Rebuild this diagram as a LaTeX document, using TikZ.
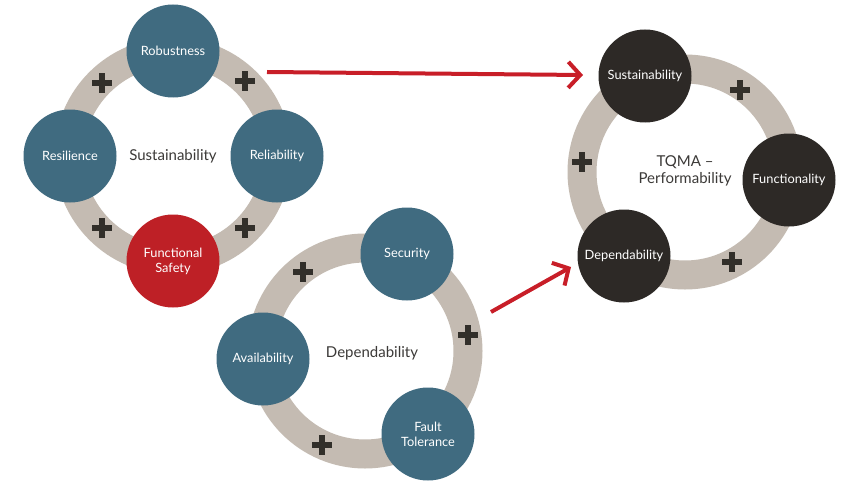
\documentclass[tikz,border=0pt]{standalone}
\usepackage{fontspec}
\setmainfont{Lato}
\usetikzlibrary{arrows.meta}
\definecolor{bluec}{RGB}{64,107,128}
\definecolor{redc}{RGB}{190,32,38}
\definecolor{darkc}{RGB}{45,41,38}
\definecolor{ringc}{RGB}{196,187,178}
\definecolor{plusc}{RGB}{50,47,42}
\definecolor{textc}{RGB}{60,58,56}
\definecolor{arrowc}{RGB}{200,30,40}
\tikzset{
  ring/.style={draw=ringc, line width=29pt},
  ball/.style={circle, minimum size=93pt, inner sep=0pt, text=white, align=center,
    font=\fontsize{12.8}{15}\selectfont},
  blueball/.style={ball, fill=bluec},
  redball/.style={ball, fill=redc},
  darkball/.style={ball, fill=darkc},
  centertext/.style={text=textc, align=center, font=\fontsize{15}{17.5}\selectfont},
  plussign/.pic={\fill[plusc] (-10,-3.2) rectangle (10,3.2); \fill[plusc] (-3.2,-10) rectangle (3.2,10);},
  redarrow/.style={draw=arrowc, line width=4pt, -{Straight Barb[length=12pt,width=26pt]}}
}
\begin{document}
\begin{tikzpicture}[x=1pt,y=-1pt]
\useasboundingbox[fill=white] (0,0) rectangle (865,503);
% ring 1: Sustainability
\draw[ring] (173,156) circle (104);
\foreach \p in {(102,83),(245,81),(102,228),(245,228)} \pic at \p {plussign};
\node[blueball] (rob) at (173,51) {Robustness};
\node[blueball] (res) at (70,156) {Resilience};
\node[blueball] (rel) at (277,156) {Reliability};
\node[redball] (fs) at (173,261) {Functional\\Safety};
\node[centertext] (sus) at (173,156) {Sustainability};
% ring 2: Dependability
\draw[ring] (365,351) circle (103);
\foreach \p in {(303,272),(468,335),(322,445)} \pic at \p {plussign};
\node[blueball] (sec) at (407,254) {Security};
\node[blueball] (ava) at (263,359) {Availability};
\node[blueball] (ft) at (428,434) {Fault\\Tolerance};
\node[centertext] (dep) at (372,353) {Dependability};
% ring 3: TQMA
\draw[ring] (685,172) circle (103);
\foreach \p in {(740,90),(582,162),(732,262)} \pic at \p {plussign};
\node[darkball] (tsus) at (645,76) {Sustainability};
\node[darkball] (tfun) at (789,180) {Functionality};
\node[darkball] (tdep) at (624,256) {Dependability};
\node[centertext] (tqma) at (685,171) {TQMA –\\Performability};
% arrows
\coordinate (a1s) at (267,72);
\coordinate (a1e) at (583,75);
\coordinate (a2s) at (491,312);
\coordinate (a2e) at (571,267);
\draw[redarrow] (a1s) -- (a1e);
\draw[redarrow] (a2s) -- (a2e);
\end{tikzpicture}
\end{document}
